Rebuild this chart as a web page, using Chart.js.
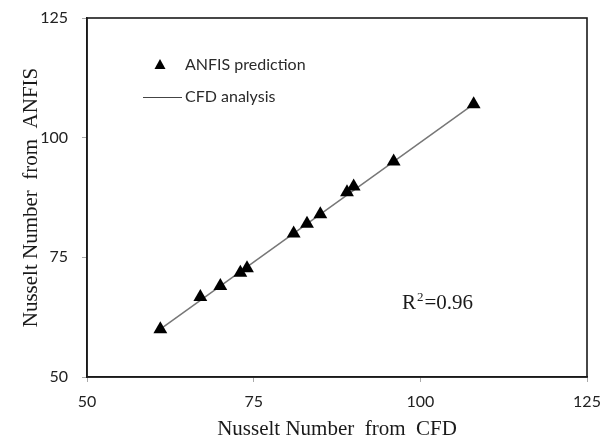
<!DOCTYPE html>
<html>
<head>
<meta charset="utf-8">
<script src="https://cdn.jsdelivr.net/npm/chart.js@4"></script>
<style>
  html, body { margin: 0; padding: 0; background: #fff; }
  #wrap { width: 604px; height: 443px; }
</style>
</head>
<body>
<div id="wrap"><canvas id="myChart" width="604" height="443"></canvas></div>
<script>
const cfdValues = [61, 67, 70, 73, 74, 81, 83, 85, 89, 90, 96, 108];
const anfisValues = [60, 66.7, 69, 71.8, 72.7, 80, 82, 84, 88.6, 89.8, 95, 107];
const fitX = [61, 108];
const fitY = [60, 107];
const axisTicks = [50, 75, 100, 125];

const points = cfdValues.map((x, i) => ({ x: x, y: anfisValues[i] }));
const fitLine = fitX.map((x, i) => ({ x: x, y: fitY[i] }));

// frame around the plot, legend and R² note
const extras = {
  id: "extras",
  afterDraw(chart) {
    const { ctx, chartArea: a } = chart;
    ctx.save();
    ctx.strokeStyle = "#1a1a1a";
    ctx.lineWidth = 1.6;
    ctx.strokeRect(a.left, a.top, a.right - a.left, a.bottom - a.top);

    // legend
    const lx = a.left + 73, ly = a.top + 47;
    ctx.fillStyle = "#000";
    ctx.beginPath();
    ctx.moveTo(lx, ly - 6);
    ctx.lineTo(lx + 5.5, ly + 4);
    ctx.lineTo(lx - 5.5, ly + 4);
    ctx.closePath();
    ctx.fill();
    ctx.font = "16px Lato";
    ctx.fillStyle = "#2a2a2a";
    ctx.textBaseline = "middle";
    ctx.fillText("ANFIS prediction", a.left + 98, ly);
    ctx.strokeStyle = "#444";
    ctx.lineWidth = 1;
    ctx.beginPath();
    ctx.moveTo(a.left + 56, ly + 32.5);
    ctx.lineTo(a.left + 95, ly + 32.5);
    ctx.stroke();
    ctx.fillText("CFD analysis", a.left + 98, ly + 32);

    // R²
    ctx.fillStyle = "#1a1a1a";
    ctx.font = "21px 'Liberation Serif'";
    ctx.textBaseline = "alphabetic";
    let tx = 402;
    ctx.fillText("R", tx, 309);
    tx += ctx.measureText("R").width + 1;
    ctx.font = "13px 'Liberation Serif'";
    ctx.fillText("2", tx, 301);
    tx += ctx.measureText("2").width + 1;
    ctx.font = "21px 'Liberation Serif'";
    ctx.fillText("=0.96", tx, 309);
    ctx.restore();
  }
};

const ctx = document.getElementById("myChart").getContext("2d");

new Chart(ctx, {
  type: "scatter",
  data: {
    datasets: [
      {
        label: "ANFIS prediction",
        data: points,
        pointStyle: "triangle",
        pointRadius: 8,
        pointHoverRadius: 8,
        backgroundColor: "#000",
        borderColor: "#000",
        borderWidth: 0,
        order: 0,
      },
      {
        label: "CFD analysis",
        type: "line",
        data: fitLine,
        borderColor: "#777",
        borderWidth: 1.5,
        pointRadius: 0,
        fill: false,
        order: 1,
      },
    ],
  },
  options: {
    responsive: false,
    animation: false,
    layout: { padding: { top: 18, right: 17, left: 0, bottom: 0 } },
    plugins: { legend: { display: false }, tooltip: { enabled: false } },
    scales: {
      x: {
        type: "linear",
        min: 50,
        max: 125,
        afterBuildTicks: (s) => { s.ticks = axisTicks.map((v) => ({ value: v })); },
        afterFit: (s) => { s.height = 66; s.paddingLeft = 0; s.paddingRight = 0; },
        grid: { drawOnChartArea: false, tickLength: 5, color: "#aaa" },
        border: { color: "#1a1a1a", width: 1.6 },
        ticks: { color: "#222", font: { family: "Lato", size: 16 }, padding: 10 },
        title: {
          display: true,
          text: "Nusselt Number  from  CFD",
          color: "#1a1a1a",
          font: { family: "Liberation Serif", size: 21 },
          padding: { top: 0, bottom: 1 },
        },
      },
      y: {
        type: "linear",
        min: 50,
        max: 125,
        afterBuildTicks: (s) => { s.ticks = axisTicks.map((v) => ({ value: v })); },
        afterFit: (s) => { s.width = 87; s.paddingTop = 0; s.paddingBottom = 0; },
        grid: { drawOnChartArea: false, tickLength: 5, color: "#aaa" },
        border: { color: "#1a1a1a", width: 1.6 },
        ticks: { color: "#222", font: { family: "Lato", size: 16 }, padding: 14 },
        title: {
          display: true,
          text: "Nusselt Number  from  ANFIS",
          color: "#1a1a1a",
          font: { family: "Liberation Serif", size: 21 },
          padding: { top: 19, bottom: 0 },
        },
      },
    },
  },
  plugins: [extras],
});
</script>
</body>
</html>
